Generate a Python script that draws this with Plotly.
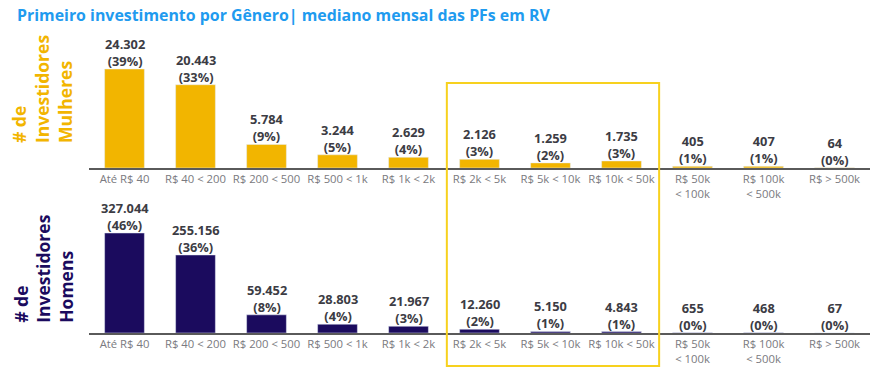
import plotly.graph_objects as go
from plotly.subplots import make_subplots

categories = ["Até R$ 40", "R$ 40 < 200", "R$ 200 < 500", "R$ 500 < 1k", "R$ 1k < 2k",
              "R$ 2k < 5k", "R$ 5k < 10k", "R$ 10k < 50k", "R$ 50k<br>< 100k",
              "R$ 100k<br>< 500k", "R$ > 500k"]
women_values = [24302, 20443, 5784, 3244, 2629, 2126, 1259, 1735, 405, 407, 64]
women_pct = [39, 33, 9, 5, 4, 3, 2, 3, 1, 1, 0]
men_values = [327044, 255156, 59452, 28803, 21967, 12260, 5150, 4843, 655, 468, 67]
men_pct = [46, 36, 8, 4, 3, 2, 1, 1, 0, 0, 0]

YELLOW = "#F2B500"
NAVY = "#1B0B5E"
LABEL = "#3C3C44"
TICK = "#7A7A80"
FONT = "Open Sans"

def fmt(v):
    return f"{v:,}".replace(",", ".")

fig = make_subplots(rows=2, cols=1, vertical_spacing=0.1262)
fig.add_trace(go.Bar(x=list(range(len(categories))), y=women_values, marker_color=YELLOW,
                     width=0.56, hoverinfo="skip"), row=1, col=1)
fig.add_trace(go.Bar(x=list(range(len(categories))), y=men_values, marker_color=NAVY,
                     width=0.56, hoverinfo="skip"), row=2, col=1)

annotations = []
for axis, vals, pcts in (("", women_values, women_pct), ("2", men_values, men_pct)):
    for i, (v, p) in enumerate(zip(vals, pcts)):
        annotations.append(dict(x=i, y=v, xref="x" + axis, yref="y" + axis,
                                text=f"{fmt(v)}<br>({p}%)",
                                showarrow=False, yanchor="bottom", yshift=-3,
                                font=dict(family=FONT, size=12.8, color=LABEL, weight="bold")))

annotations.append(dict(x=-0.06, y=0.642, xref="paper", yref="paper", xanchor="center",
                        yanchor="bottom", text="# de<br>Investidores<br>Mulheres", textangle=-90,
                        align="left", showarrow=False,
                        font=dict(family=FONT, size=17.5, color=YELLOW, weight="bold")))
annotations.append(dict(x=-0.058, y=0.027, xref="paper", yref="paper", xanchor="center",
                        yanchor="bottom", text="# de<br>Investidores<br>Homens", textangle=-90,
                        align="left", showarrow=False,
                        font=dict(family=FONT, size=17.5, color=NAVY, weight="bold")))

fig.update_layout(
    width=895, height=376,
    margin=dict(l=89, r=25, t=40, b=43),
    plot_bgcolor="white", paper_bgcolor="white",
    showlegend=False, bargap=0.44,
    title=dict(text="Primeiro investimento por Gênero| mediano mensal das PFs em RV",
               x=0.019, xanchor="left", y=0.96, yanchor="middle",
               font=dict(family=FONT, size=15.9, color="#1F9BEF", weight="bold")),
    annotations=annotations,
    shapes=[dict(type="rect", xref="x", yref="paper", x0=4.54, x1=7.53, y0=-0.113, y1=0.853,
                 line=dict(color="#F7D11E", width=2), fillcolor="rgba(0,0,0,0)")],
)
for r in (1, 2):
    fig.update_xaxes(row=r, col=1, tickmode="array", tickvals=list(range(len(categories))),
                     ticktext=categories, range=[-0.5, 10.5], showline=True, automargin=False,
                     linecolor="#5A5A5A", linewidth=1.5, showgrid=False, zeroline=False,
                     tickfont=dict(family=FONT, size=11.3, color=TICK))
fig.update_yaxes(row=1, col=1, range=[0, 24302 * 128 / 99], visible=False, automargin=False)
fig.update_yaxes(row=2, col=1, range=[0, 327044 * 128 / 100], visible=False, automargin=False)

fig.write_html("out.html", config={"displayModeBar": False},
               post_script="document.body.style.margin='0';")
